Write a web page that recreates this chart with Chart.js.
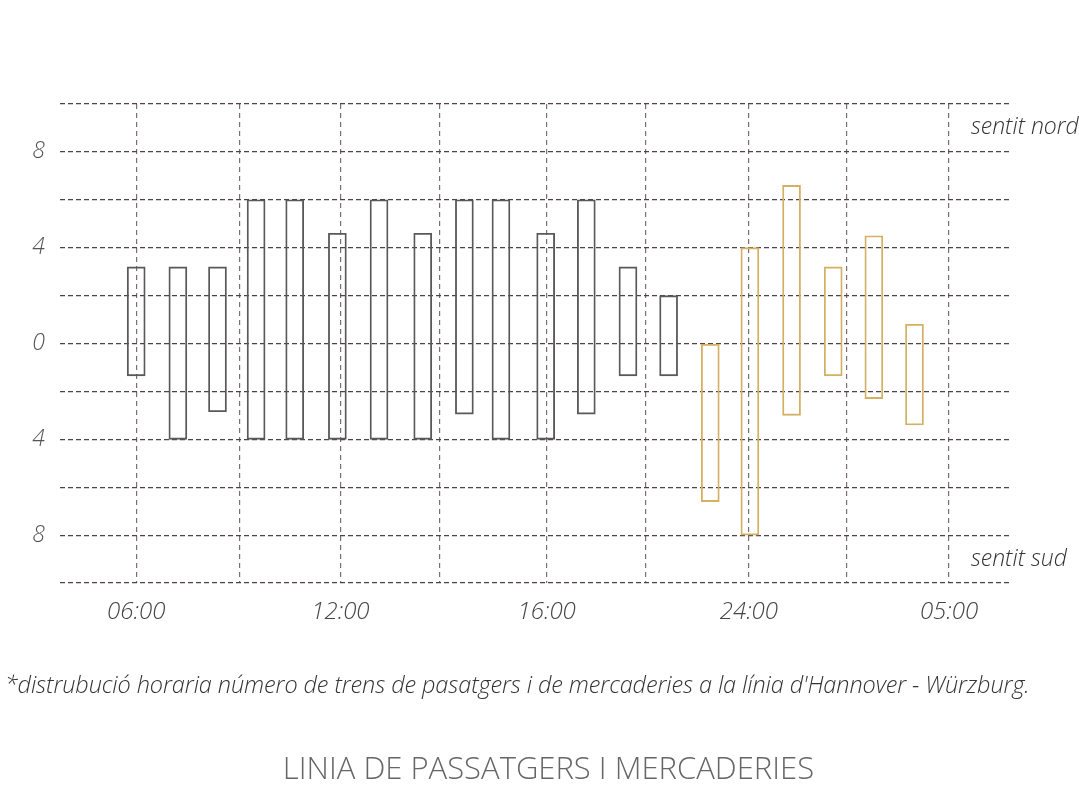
<!DOCTYPE html>
<html>
<head>
<meta charset="utf-8">
<script src="https://cdn.jsdelivr.net/npm/chart.js@4.4.1/dist/chart.umd.min.js"></script>
<style>
  html, body { margin: 0; padding: 0; background: #fff; }
  #wrap { position: relative; width: 1079px; height: 795px; overflow: hidden; }
  #chart { position: absolute; left: 0; top: 0; }
  .note {
    position: absolute; left: 5px; top: 668px; white-space: nowrap;
    font-family: "Open Sans", sans-serif; font-style: italic; font-weight: 300;
    font-size: 23.5px; color: #333; letter-spacing: -0.1px;
  }
  .title {
    position: absolute; left: 0; width: 1097px; top: 746px; text-align: center;
    font-family: "Open Sans", sans-serif; font-weight: 300;
    font-size: 31px; color: #666;
  }
</style>
</head>
<body>
<div id="wrap">
  <canvas id="chart" width="1079" height="795"></canvas>
  <div class="note">*distrubució horaria número de trens de pasatgers i de mercaderies a la línia d'Hannover - Würzburg.</div>
  <div class="title">LINIA DE PASSATGERS I MERCADERIES</div>
</div>
<script>
    'use strict';

    // bar positions along the day (one unit = one vertical guide line)
    const passengerSlots = [0, 0.41, 0.80, 1.18, 1.56, 1.98, 2.39, 2.82, 3.23, 3.59, 4.03, 4.43, 4.84, 5.24];
    const goodsSlots = [5.65, 6.04, 6.45, 6.86, 7.26, 7.66];

    // trains per hour: north (up) and south (down)
    const passengerNorth = [3.2, 3.2, 3.2, 6, 6, 4.6, 6, 4.6, 6, 6, 4.6, 6, 3.2, 2.0];
    const passengerSouth = [-1.35, -4, -2.85, -4, -4, -4, -4, -4, -2.95, -4, -4, -2.95, -1.35, -1.35];
    const goodsNorth = [0, 4, 6.6, 3.2, 4.5, 0.8];
    const goodsSouth = [-6.6, -8, -3, -1.35, -2.3, -3.4];

    // vertical guide lines and their labels
    const guideLines = [0, 1.02, 2.01, 2.99, 4.04, 5.01, 6.03, 6.99, 8.0];
    const hourLabels = ['06:00', '', '12:00', '', '16:00', '', '24:00', '', '05:00'];

    const yLabelValues = [8, 4, 0, -4, -8];

    const toBars = (slots, north, south) =>
        slots.map((x, i) => ({ x: x, y: [south[i], north[i]] }));

    const FONT = '"Open Sans", sans-serif';

    // side captions
    const sideLabels = {
        id: 'sideLabels',
        afterDraw(chart) {
            const { ctx, chartArea, scales } = chart;
            ctx.save();
            ctx.font = 'italic 300 23px ' + FONT;
            ctx.fillStyle = '#333';
            ctx.textBaseline = 'middle';
            ctx.textAlign = 'left';
            const x = chartArea.right - 39;
            ctx.fillText('sentit nord', x, scales.y.getPixelForValue(9));
            ctx.fillText('sentit sud', x, scales.y.getPixelForValue(-9));
            ctx.restore();
        }
    };

    new Chart(document.getElementById('chart'), {
        type: 'bar',
        data: {
            datasets: [
                {
                    label: 'passatgers',
                    data: toBars(passengerSlots, passengerNorth, passengerSouth),
                    backgroundColor: 'rgba(0,0,0,0)',
                    borderColor: '#595959',
                    borderWidth: 1.2,
                    borderSkipped: false
                },
                {
                    label: 'mercaderies',
                    data: toBars(goodsSlots, goodsNorth, goodsSouth),
                    backgroundColor: 'rgba(0,0,0,0)',
                    borderColor: '#d4b063',
                    borderWidth: 1.2,
                    borderSkipped: false
                }
            ]
        },
        options: {
            responsive: false,
            animation: false,
            grouped: false,
            barThickness: 18,
            layout: { padding: { left: 0, top: 104, right: 69, bottom: 162 } },
            plugins: {
                legend: { display: false },
                tooltip: { enabled: false }
            },
            scales: {
                x: {
                    type: 'linear',
                    min: -0.75,
                    max: 8.6,
                    offset: false,
                    afterBuildTicks(scale) {
                        scale.ticks = guideLines.map(v => ({ value: v }));
                    },
                    afterFit(scale) { scale.height = 50; },
                    grid: {
                        offset: false,
                        drawTicks: false,
                        color: '#7d6e71',
                        lineWidth: 1.2
                    },
                    border: { display: false, dash: [5, 4] },
                    ticks: {
                        autoSkip: false,
                        maxRotation: 0,
                        padding: 15,
                        color: '#444',
                        font: { family: FONT, size: 24, style: 'italic', weight: 300 },
                        callback: (v, i) => hourLabels[i]
                    }
                },
                y: {
                    min: -10,
                    max: 10,
                    afterFit(scale) { scale.width = 60; },
                    grid: {
                        drawTicks: false,
                        color: '#4e4043',
                        lineWidth: 1.2
                    },
                    border: { display: false, dash: [5, 3] },
                    ticks: {
                        stepSize: 2,
                        padding: 15,
                        color: '#555',
                        font: { family: FONT, size: 23, style: 'italic', weight: 300 },
                        callback: v => yLabelValues.includes(v) ? String(Math.abs(v)) : ''
                    }
                }
            }
        },
        plugins: [sideLabels]
    });
</script>
</body>
</html>
